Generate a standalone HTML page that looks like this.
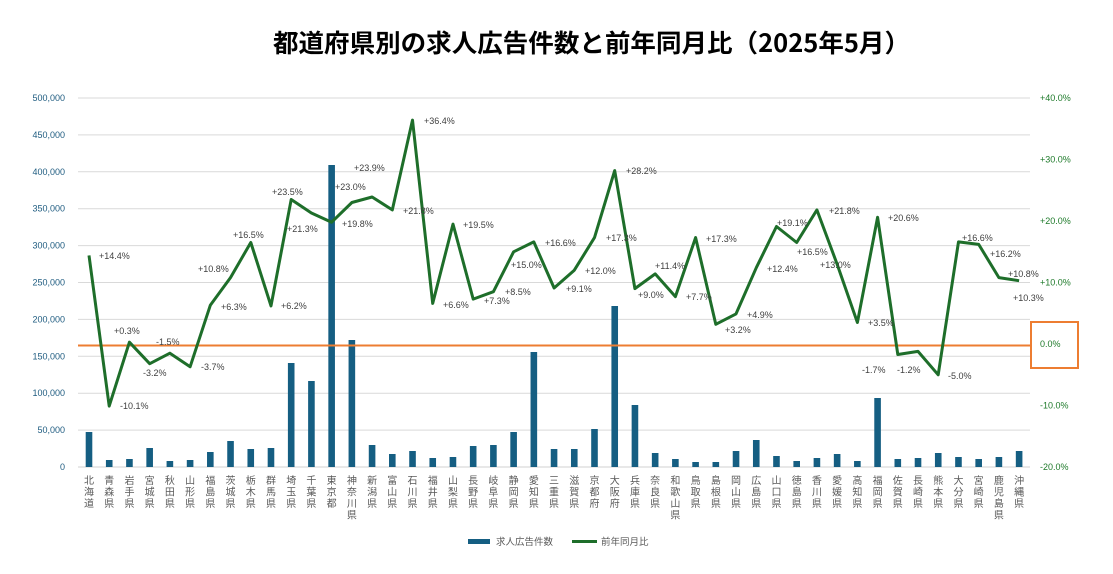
<!DOCTYPE html>
<html><head><meta charset="utf-8"><style>
body{margin:0;background:#fff;}
svg{display:block;font-family:"Liberation Sans","Noto Sans CJK JP",sans-serif;}
</style></head><body>
<svg id="c" width="1113" height="574" xmlns="http://www.w3.org/2000/svg">
<text x="273" y="52" font-size="25" font-weight="bold" textLength="637" lengthAdjust="spacingAndGlyphs" fill="#000" font-family="'Noto Sans CJK JP',sans-serif">都道府県別の求人広告件数と前年同月比（2025年5月）</text>
</svg>
<script>
const svg=document.getElementById('c');const NS='http://www.w3.org/2000/svg';
function el(t,a,txt){const e=document.createElementNS(NS,t);for(const k in a)e.setAttribute(k,a[k]);if(txt!==undefined)e.textContent=txt;svg.appendChild(e);return e;}
const names=['北海道','青森県','岩手県','宮城県','秋田県','山形県','福島県','茨城県','栃木県','群馬県','埼玉県','千葉県','東京都','神奈川県','新潟県','富山県','石川県','福井県','山梨県','長野県','岐阜県','静岡県','愛知県','三重県','滋賀県','京都府','大阪府','兵庫県','奈良県','和歌山県','鳥取県','島根県','岡山県','広島県','山口県','徳島県','香川県','愛媛県','高知県','福岡県','佐賀県','長崎県','熊本県','大分県','宮崎県','鹿児島県','沖縄県'];
const h=[35,7,8,19,6,7,15,26,18,19,104,86,302,127,22,13,16,9,10,21,22,35,115,18,18,38,161,62,14,8,5,5,16,27,11,6,9,13,6,69,8,9,14,10,8,10,16];
const v=[14.4,-10.1,0.3,-3.2,-1.5,-3.7,6.3,10.8,16.5,6.2,23.5,21.3,19.8,23.0,23.9,21.8,36.4,6.6,19.5,7.3,8.5,15.0,16.6,9.1,12.0,17.3,28.2,9.0,11.4,7.7,17.3,3.2,4.9,12.4,19.1,16.5,21.8,13.0,3.5,20.6,-1.7,-1.2,-5.0,16.6,16.2,10.8,10.3];
const lp=[[99,256],[120,406],[114,331],[143,373],[156,342],[201,367],[221,307],[198,269],[233,235],[281,306],[272,192],[287,229],[342,224],[335,187],[354,168],[403,211],[424,121],[443,305],[463,225],[484,301],[505,292],[511,265],[545,243],[566,289],[585,271],[606,238],[626,171],[638,295],[655,266],[686,297],[706,239],[725,330],[747,315],[767,269],[777,223],[797,252],[829,211],[820,265],[868,323],[888,218],[862,370],[897,370],[948,376],[962,238],[990,254],[1008,274],[1013,298]];
const X=i=>89+i*20.22;
const y0=467,st=36.9;
for(let k=0;k<=10;k++){const y=y0-k*st;
 if(k>0)el('line',{x1:78,x2:1030,y1:y,y2:y,stroke:'#d9d9d9','stroke-width':1});
 el('text',{x:65,y:y+3,'font-size':9,'text-anchor':'end',fill:'#1f5c80'},k==0?'0':(k*50000).toLocaleString('en-US'));}
el('line',{x1:78,x2:1030,y1:467,y2:467,stroke:'#d0d0d0','stroke-width':1});
for(let k=0;k<=6;k++){const p=-20+k*10;const y=467-k*61.5;
 el('text',{x:1040,y:y+3,'font-size':9,fill:'#1e7a2a'},(p>0?'+':'')+p.toFixed(1)+'%');}
for(let i=0;i<47;i++){el('rect',{x:X(i)-3.3,y:y0-h[i],width:6.6,height:h[i],fill:'#155e82'});
 const s=[...names[i]];s.forEach((c,j)=>el('text',{x:X(i),y:484+j*11.5,'font-size':10,fill:'#595959','text-anchor':'middle'},c));}
el('line',{x1:78,x2:1030,y1:345.5,y2:345.5,stroke:'#ed7d31','stroke-width':2});
el('rect',{x:1031,y:322,width:47,height:46,fill:'none',stroke:'#ed7d31','stroke-width':2});
let d='';for(let i=0;i<47;i++){d+=(i?'L':'M')+X(i).toFixed(1)+','+(344-v[i]*6.15).toFixed(1);}
el('path',{d:d,fill:'none',stroke:'#1e6e2a','stroke-width':3,'stroke-linejoin':'round'});
for(let i=0;i<47;i++){el('text',{x:lp[i][0],y:lp[i][1]+3,'font-size':9,fill:'#404040'},(v[i]>0?'+':'')+v[i].toFixed(1)+'%');}
el('rect',{x:468,y:539,width:22,height:5,fill:'#155e82'});
el('text',{x:496,y:545,'font-size':9.5,fill:'#595959'},'求人広告件数');
el('line',{x1:572,x2:597,y1:541.5,y2:541.5,stroke:'#1e6e2a','stroke-width':3});
el('text',{x:601,y:545,'font-size':9.5,fill:'#595959'},'前年同月比');
</script>
</body></html>
